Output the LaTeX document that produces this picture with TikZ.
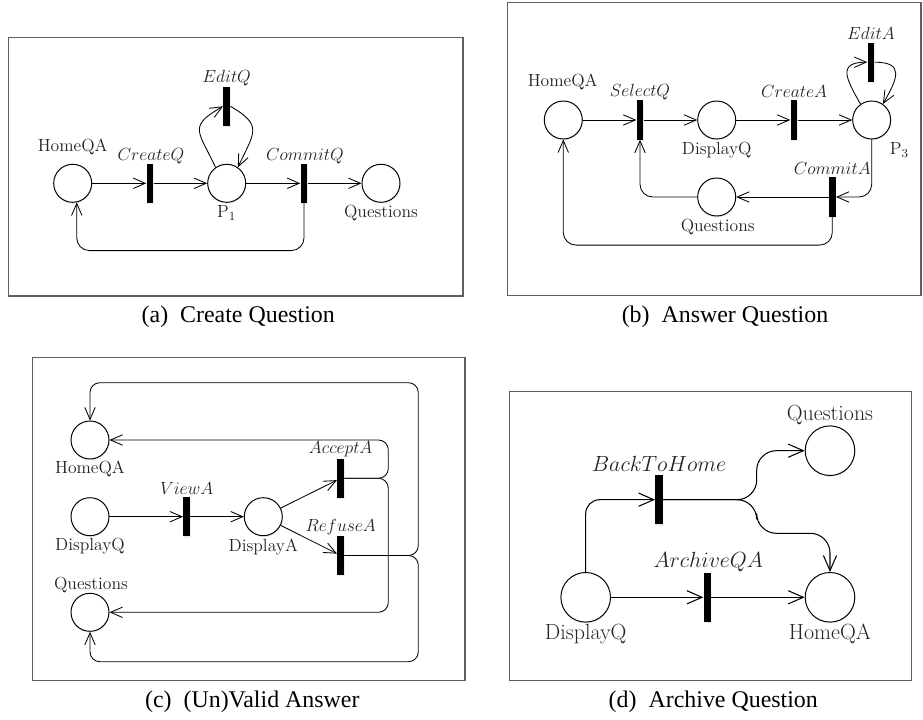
\RequirePackage{fix-cm}
\documentclass[tikz,border=0pt]{standalone}
\usepackage{fontspec}
\newfontfamily\capfont{Liberation Serif}
\usepackage{tikz}
\usetikzlibrary{arrows.meta, positioning, shadows}
\definecolor{framegray}{RGB}{95,95,95}
\definecolor{inkgray}{RGB}{35,35,35}

\begin{document}
\begin{tikzpicture}[
    x=0.025cm, y=0.025cm,
    place/.style={circle, draw, line width=0.7pt, fill=white, minimum size=9.5mm, inner sep=0pt,
        drop shadow={shadow xshift=0.3pt, shadow yshift=-1pt, opacity=0.15}},
    bigplace/.style={place, minimum size=12.4mm},
    trans/.style={rectangle, fill=black, minimum width=1.7mm, minimum height=9.75mm, inner sep=0pt,
        drop shadow={shadow xshift=0.3pt, shadow yshift=-1pt, opacity=0.15}},
    bigtrans/.style={trans, minimum width=1.8mm, minimum height=12.3mm},
    lbl/.style={font=\fontsize{12.5}{15}\selectfont, text=inkgray, inner sep=0pt},
    biglbl/.style={font=\fontsize{15.6}{18}\selectfont, text=inkgray, inner sep=0pt},
    caption/.style={font=\capfont\fontsize{17}{20}\selectfont, inner sep=0pt},
    panel/.style={draw=framegray, line width=0.9pt},
    arr/.style={-{Straight Barb[length=3mm, width=2.6mm]}, line width=0.6pt},
    bigarr/.style={-{Straight Barb[length=3.8mm, width=3.3mm]}, line width=0.75pt}
]
\useasboundingbox (0,0) rectangle (923,719);

% (a) Create Question
\draw[panel] (8.3,423) rectangle (463,681.3);
\node[place] (a-home) at (72.7,535.7) {};
\node[trans] (a-create) at (150,535.7) {};
\node[place] (a-p1) at (226.7,535.7) {};
\node[trans] (a-edit) at (226.7,612.7) {};
\node[trans] (a-commit) at (304,535.7) {};
\node[place] (a-quest) at (381,535.7) {};
\node[lbl] (a-home-l) at (72.7,572.3) {HomeQA};
\node[lbl] (a-create-l) at (151,563) {$CreateQ$};
\node[lbl] (a-p1-l) at (226.7,505.7) {P$_1$};
\node[lbl] (a-edit-l) at (226.7,640.7) {$EditQ$};
\node[lbl] (a-commit-l) at (305,563) {$CommitQ$};
\node[lbl] (a-quest-l) at (381,505.7) {Questions};
\node[caption] (a-cap) at (238.3,402.3) {(a)\enspace Create Question};

\draw[arr] (a-home) -- (a-create);
\draw[arr] (a-create) -- (a-p1);
\draw[arr] (a-p1) -- (a-commit);
\draw[arr] (a-commit) -- (a-quest);
\draw[arr] (a-p1.125) to[out=115, in=210, looseness=1.7] (a-edit.west);
\draw[arr] (a-edit.east) to[out=-30, in=65, looseness=1.6] (a-p1.55);
\draw[arr, rounded corners=9pt] (a-commit.south) -- ++(0,-47.5) -| (a-home.-78);

% (b) Answer Question
\draw[panel] (507.3,423.7) rectangle (921,716.3);
\node[place] (b-home) at (563.3,599) {};
\node[trans] (b-select) at (640,599) {};
\node[place] (b-dispq) at (716.7,599) {};
\node[trans] (b-create) at (794,599) {};
\node[place] (b-p3) at (871.7,599) {};
\node[trans] (b-edit) at (871,656.8) {};
\node[trans] (b-commit) at (832.3,522) {};
\node[place] (b-quest) at (716.7,522) {};
\node[lbl] (b-home-l) at (562.7,637.3) {HomeQA};
\node[lbl] (b-select-l) at (640,627.3) {$SelectQ$};
\node[lbl] (b-dispq-l) at (716.7,569) {DisplayQ};
\node[lbl] (b-create-l) at (794,627.3) {$CreateA$};
\node[lbl] (b-p3-l) at (899.3,569) {P$_3$};
\node[lbl] (b-edit-l) at (871,685.7) {$EditA$};
\node[lbl] (b-commit-l) at (832.3,550.7) {$CommitA$};
\node[lbl] (b-quest-l) at (717.7,492.3) {Questions};
\node[caption] (b-cap) at (725,402.3) {(b)\enspace Answer Question};

\draw[arr] (b-home) -- (b-select);
\draw[arr] (b-select) -- (b-dispq);
\draw[arr] (b-dispq) -- (b-create);
\draw[arr] (b-create) -- (b-p3);
\draw[arr] (b-p3.125) to[out=120, in=180, looseness=1.8] (b-edit.west);
\draw[arr] (b-edit.east) to[out=0, in=60, looseness=1.8] (b-p3.55);
\draw[arr, rounded corners=9pt] (b-p3.south) |- (b-commit.east);
\draw[arr] (b-commit) -- (b-quest);
\draw[arr, rounded corners=9pt] (b-quest.west) -| (b-select.south);
\draw[arr, rounded corners=9pt] (b-commit.south) -- ++(0,-28.3) -| (b-home.south);

% (c) (Un)Valid Answer
\draw[panel] (32.3,38.3) rectangle (465,361.7);
\node[place] (c-home) at (90,279) {};
\node[place] (c-dispq) at (90,202.3) {};
\node[place] (c-quest) at (90,106.7) {};
\node[trans] (c-view) at (186.7,202.3) {};
\node[place] (c-dispa) at (263.3,202.3) {};
\node[trans] (c-accept) at (340.7,240.7) {};
\node[trans] (c-refuse) at (340.7,163.5) {};
\node[lbl] (c-home-l) at (90,249.7) {HomeQA};
\node[lbl] (c-dispq-l) at (90,173.3) {DisplayQ};
\node[lbl] (c-quest-l) at (91,134) {Questions};
\node[lbl] (c-view-l) at (186.7,230.7) {$ViewA$};
\node[lbl] (c-dispa-l) at (263.3,172.3) {DisplayA};
\node[lbl] (c-accept-l) at (340.7,269.7) {$AcceptA$};
\node[lbl] (c-refuse-l) at (340.7,192.3) {$RefuseA$};
\node[caption] (c-cap) at (252.3,17.3) {(c)\enspace (Un)Valid Answer};

\draw[arr] (c-dispq) -- (c-view);
\draw[arr] (c-view) -- (c-dispa);
\draw[arr] (c-dispa) -- (c-accept);
\draw[arr] (c-dispa) -- (c-refuse);
\draw[arr, rounded corners=7pt] (c-accept.east) -| (388.3,279) -- (c-home.east);
\draw[arr, rounded corners=7pt] (c-accept.east) -| (388.3,106.7) -- (c-quest.east);
\draw[arr, rounded corners=7pt] (c-refuse.east) -| (418.3,336.3) -| (c-home.north);
\draw[arr, rounded corners=7pt] (c-refuse.east) -| (418.3,57.3) -| (c-quest.south);

% (d) Archive Question
\draw[panel] (509.3,38.3) rectangle (911.7,327.3);
\node[bigplace] (d-quest) at (830,268.3) {};
\node[bigtrans] (d-back) at (659,219.3) {};
\node[bigplace] (d-dispq) at (585.7,121.7) {};
\node[bigtrans] (d-archive) at (707.3,121.7) {};
\node[bigplace] (d-home) at (830,121.7) {};
\node[biglbl] (d-quest-l) at (830,304) {Questions};
\node[biglbl] (d-back-l) at (659,254.7) {$BackToHome$};
\node[biglbl] (d-dispq-l) at (585.7,85) {DisplayQ};
\node[biglbl] (d-archive-l) at (708.3,157.3) {$ArchiveQA$};
\node[biglbl] (d-home-l) at (830,85) {HomeQA};
\node[caption] (d-cap) at (713.3,17.3) {(d)\enspace Archive Question};

\draw[bigarr, rounded corners=10pt] (d-dispq.north) |- (d-back.west);
\draw[bigarr, rounded corners=14pt] (d-back.east) -| (756.7,268.3) -- (d-quest.west);
\draw[bigarr, rounded corners=14pt] (d-back.east) -| (756.7,185.7) -| (d-home.north);
\draw[bigarr] (d-dispq) -- (d-archive);
\draw[bigarr] (d-archive) -- (d-home);
\end{tikzpicture}
\end{document}
